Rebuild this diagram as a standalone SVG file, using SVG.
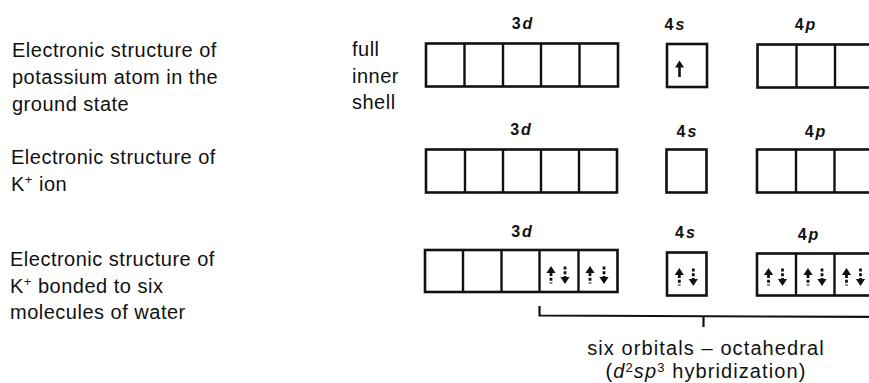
<svg xmlns="http://www.w3.org/2000/svg" xmlns:xlink="http://www.w3.org/1999/xlink" width="869" height="383" viewBox="0 0 869 383">
<style>
  .t { font-family: "Liberation Sans", Arial, sans-serif; font-size: 20px; letter-spacing: 0.5px; fill: #111; }
  .lab { font-family: "Liberation Sans", Arial, sans-serif; font-size: 16px; font-weight: bold; letter-spacing: 2px; fill: #111; text-anchor: middle; }
  .cap { font-family: "Liberation Sans", Arial, sans-serif; font-size: 20px; letter-spacing: 1.1px; fill: #111; text-anchor: middle; }
  .box { fill: #fff; stroke: #111; stroke-width: 2.6; }
  .div { stroke: #111; stroke-width: 2.4; }
  .con { fill: none; stroke: #111; stroke-width: 2.2; }
  .dot { stroke: #111; stroke-width: 2.8; stroke-dasharray: 3 1.8; }
</style>
<defs>
  <g id="pair">
    <polygon points="0,-0.5 -4.6,6.5 4.6,6.5" fill="#111"/>
    <line class="dot" x1="0" y1="6.5" x2="0" y2="17"/>
    <line class="dot" x1="14" y1="0" x2="14" y2="10.5"/>
    <polygon points="9.4,10.5 18.6,10.5 14,17.5" fill="#111"/>
  </g>
</defs>
<rect width="869" height="383" fill="#fff"/>

<g id="label-row1">
  <text class="t" x="12" y="56.5">Electronic structure of</text>
  <text class="t" x="12" y="83.5">potassium atom in the</text>
  <text class="t" x="12" y="110.5">ground state</text>
</g>
<g id="label-inner-shell">
  <text class="t" x="352" y="56">full</text>
  <text class="t" x="352" y="82.5">inner</text>
  <text class="t" x="352" y="109">shell</text>
</g>
<g id="label-row2">
  <text class="t" x="11" y="164">Electronic structure of</text>
  <text class="t" x="11" y="190.5">K<tspan font-size="13" dy="-7">+</tspan><tspan dy="7"> ion</tspan></text>
</g>
<g id="label-row3">
  <text class="t" x="10" y="266">Electronic structure of</text>
  <text class="t" x="10" y="292.5">K<tspan font-size="13" dy="-7">+</tspan><tspan dy="7"> bonded to six</tspan></text>
  <text class="t" x="10" y="319">molecules of water</text>
</g>

<!-- Row 1 -->
<g id="row1-3d">
  <text class="lab" x="523" y="28.5">3<tspan font-style="italic">d</tspan></text>
  <rect class="box" x="426" y="43.5" width="192" height="43"/>
  <line class="div" x1="464.5" y1="43.5" x2="464.5" y2="86.5"/>
  <line class="div" x1="503" y1="43.5" x2="503" y2="86.5"/>
  <line class="div" x1="541" y1="43.5" x2="541" y2="86.5"/>
  <line class="div" x1="579.5" y1="43.5" x2="579.5" y2="86.5"/>
</g>
<g id="row1-4s">
  <text class="lab" x="675.5" y="29.5">4<tspan font-style="italic">s</tspan></text>
  <rect class="box" x="667" y="44" width="40" height="43"/>
  <polygon points="679.5,60.5 675,67.5 684,67.5" fill="#111"/>
  <line x1="679.5" y1="66" x2="679.5" y2="77" stroke="#111" stroke-width="2.6"/>
</g>
<g id="row1-4p">
  <text class="lab" x="806" y="29.5">4<tspan font-style="italic">p</tspan></text>
  <rect class="box" x="757.5" y="44.5" width="117" height="43"/>
  <line class="div" x1="796.5" y1="44.5" x2="796.5" y2="87.5"/>
  <line class="div" x1="835" y1="44.5" x2="835" y2="87.5"/>
</g>

<!-- Row 2 -->
<g id="row2-3d">
  <text class="lab" x="521.5" y="135">3<tspan font-style="italic">d</tspan></text>
  <rect class="box" x="426" y="149.5" width="191" height="43"/>
  <line class="div" x1="465" y1="149.5" x2="465" y2="192.5"/>
  <line class="div" x1="503" y1="149.5" x2="503" y2="192.5"/>
  <line class="div" x1="541" y1="149.5" x2="541" y2="192.5"/>
  <line class="div" x1="579" y1="149.5" x2="579" y2="192.5"/>
</g>
<g id="row2-4s">
  <text class="lab" x="687.5" y="136.5">4<tspan font-style="italic">s</tspan></text>
  <rect class="box" x="666.5" y="149.5" width="40" height="43"/>
</g>
<g id="row2-4p">
  <text class="lab" x="816" y="137">4<tspan font-style="italic">p</tspan></text>
  <rect class="box" x="757" y="149.5" width="117" height="43"/>
  <line class="div" x1="796" y1="149.5" x2="796" y2="192.5"/>
  <line class="div" x1="834.5" y1="149.5" x2="834.5" y2="192.5"/>
</g>

<!-- Row 3 -->
<g id="row3-3d">
  <text class="lab" x="522.5" y="236.5">3<tspan font-style="italic">d</tspan></text>
  <rect class="box" x="425" y="250" width="192.5" height="42"/>
  <line class="div" x1="463" y1="250" x2="463" y2="292"/>
  <line class="div" x1="501.5" y1="250" x2="501.5" y2="292"/>
  <line class="div" x1="539.5" y1="250" x2="539.5" y2="292"/>
  <line class="div" x1="578.5" y1="250" x2="578.5" y2="292"/>
  <use xlink:href="#pair" href="#pair" transform="translate(551,266.5)"/>
  <use xlink:href="#pair" href="#pair" transform="translate(590,266.5)"/>
</g>
<g id="row3-4s">
  <text class="lab" x="686" y="238">4<tspan font-style="italic">s</tspan></text>
  <rect class="box" x="667" y="252.5" width="39.5" height="43"/>
  <use xlink:href="#pair" href="#pair" transform="translate(679.3,268.5)"/>
</g>
<g id="row3-4p">
  <text class="lab" x="809" y="240">4<tspan font-style="italic">p</tspan></text>
  <rect class="box" x="757" y="253.5" width="117" height="42"/>
  <line class="div" x1="796" y1="253.5" x2="796" y2="295.5"/>
  <line class="div" x1="834.5" y1="253.5" x2="834.5" y2="295.5"/>
  <use xlink:href="#pair" href="#pair" transform="translate(768.5,268.5)"/>
  <use xlink:href="#pair" href="#pair" transform="translate(808,268.5)"/>
  <use xlink:href="#pair" href="#pair" transform="translate(846.5,268.5)"/>
</g>

<g id="connectors">
  <polyline class="con" points="539.5,306 539.5,315.5 875,317"/>
  <line class="con" x1="703.5" y1="316.3" x2="703.5" y2="327"/>
</g>

<g id="caption">
  <text class="cap" x="706" y="354.5">six orbitals – octahedral</text>
  <text class="cap" x="706" y="377.5">(<tspan font-style="italic">d</tspan><tspan font-size="13" dy="-6">2</tspan><tspan font-style="italic" dy="6">sp</tspan><tspan font-size="13" dy="-6">3</tspan><tspan dy="6"> hybridization)</tspan></text>
</g>
</svg>
